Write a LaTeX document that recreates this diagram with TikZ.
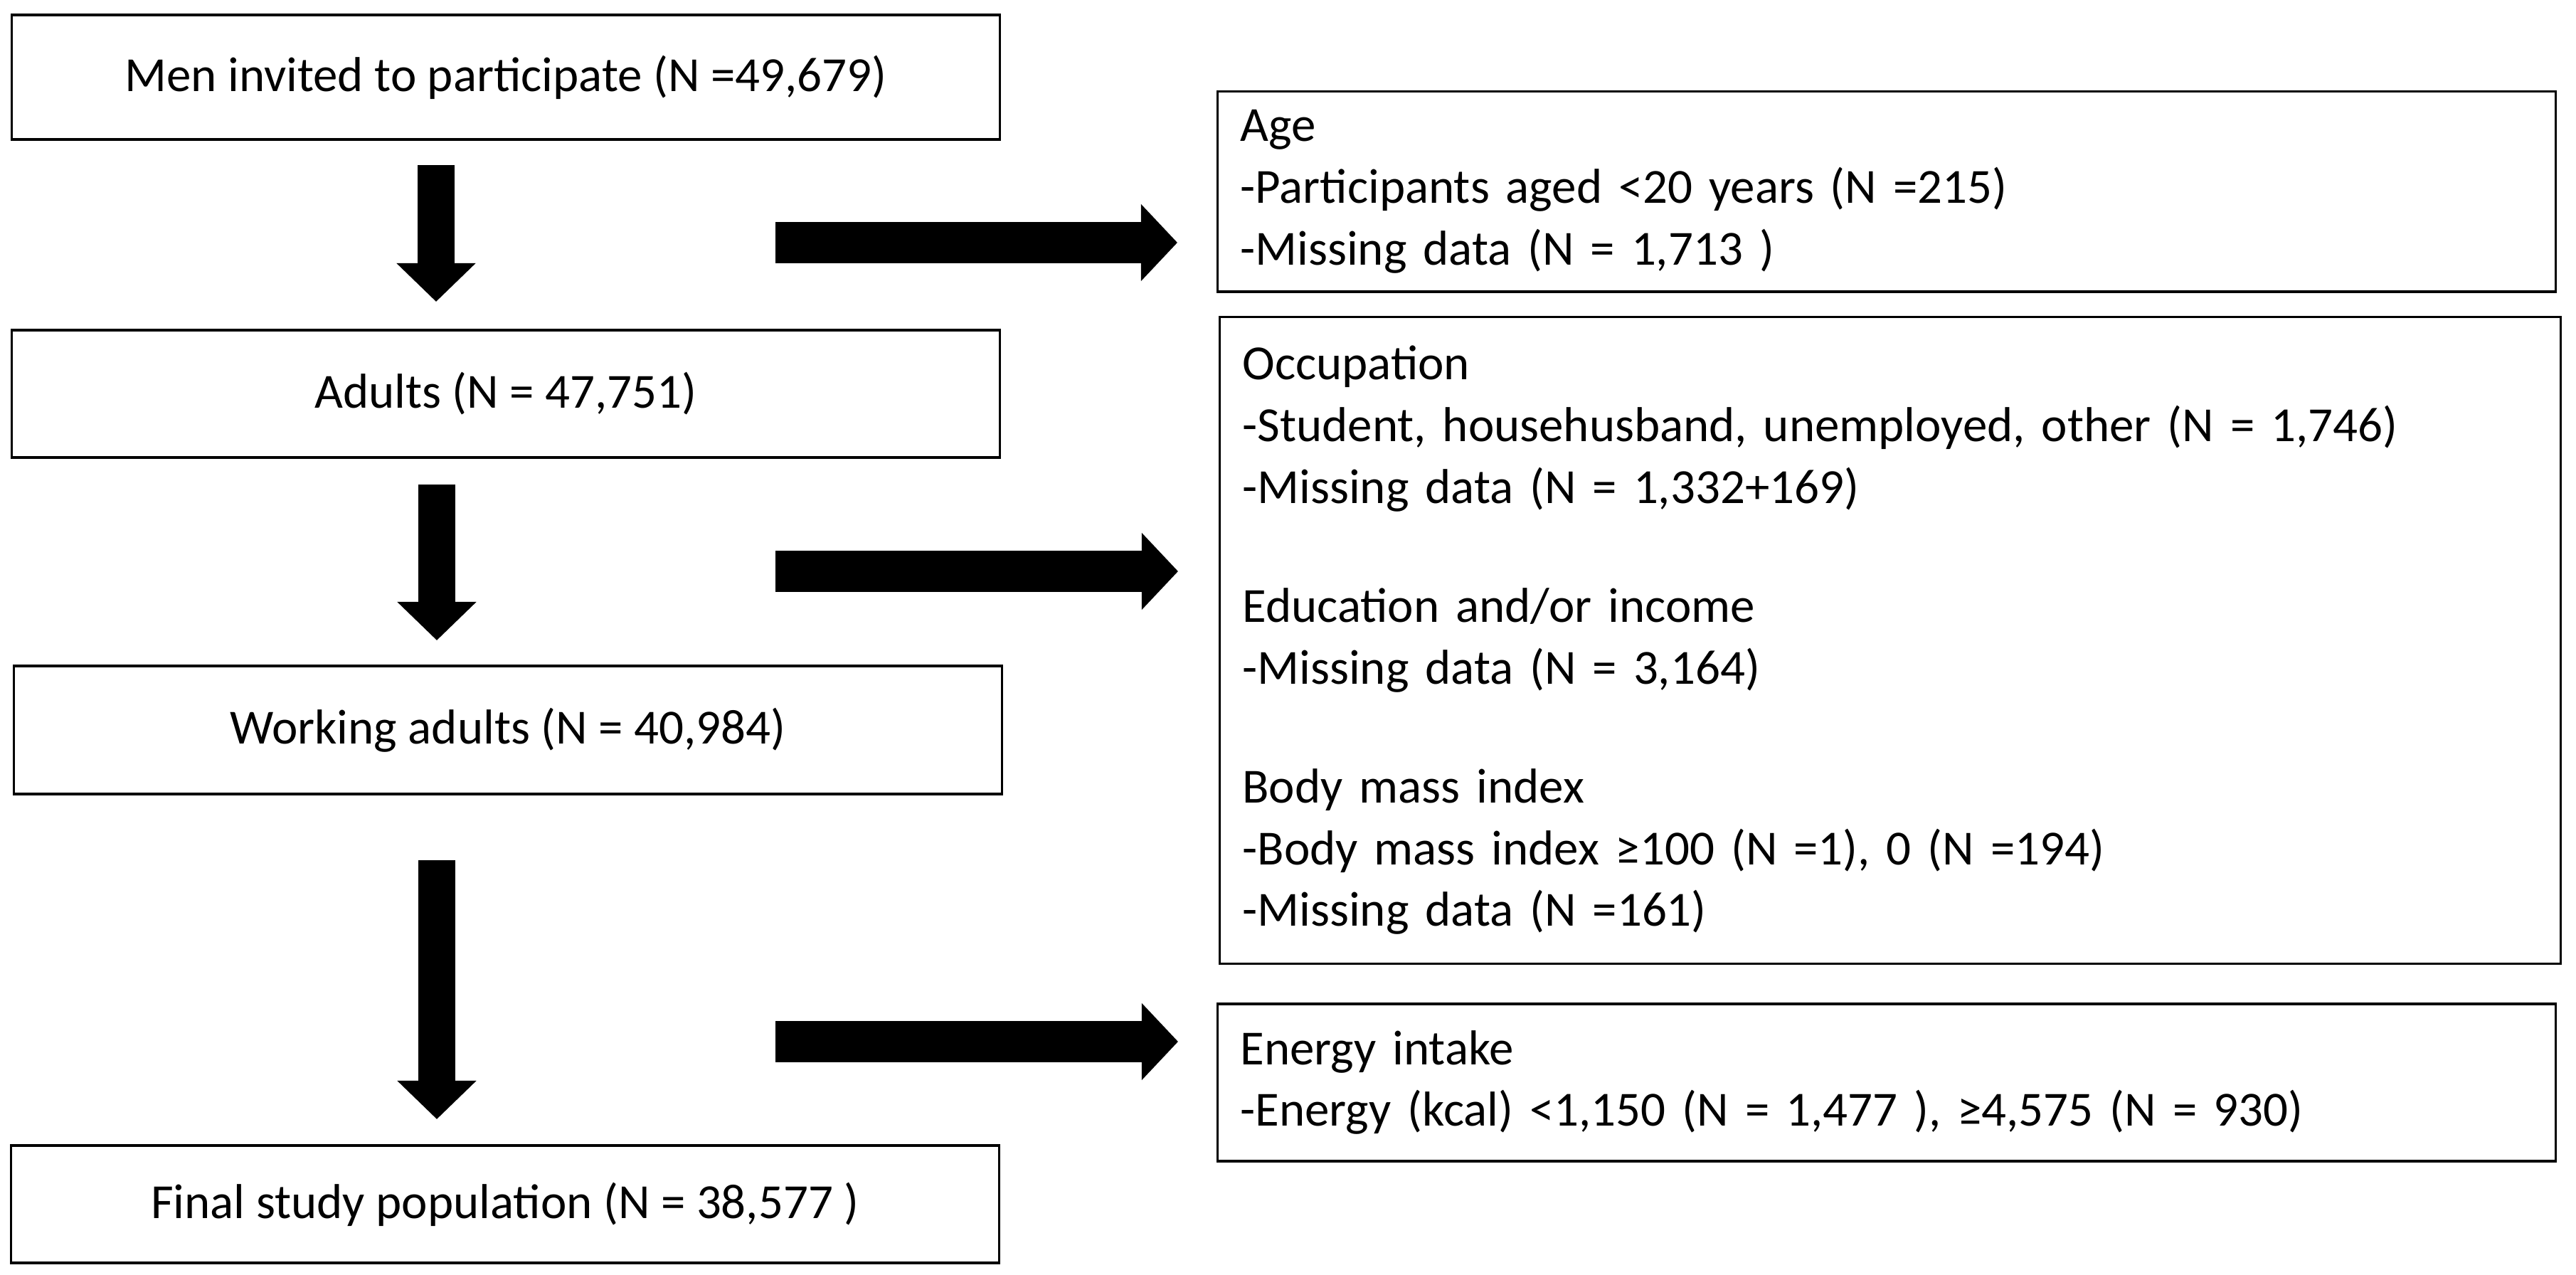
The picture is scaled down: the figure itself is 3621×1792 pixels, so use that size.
\documentclass[tikz,border=0pt]{standalone}
\usepackage{fontspec}
\setmainfont{Carlito}
\usetikzlibrary{arrows.meta}

\tikzset{
    leftbox/.style={draw, line width=0.9pt, minimum width=13.88cm, inner sep=0pt},
    rightbox/.style={draw, line width=0.9pt, inner xsep=0.32cm, inner ysep=0pt, align=left},
    downarrow/.style={line width=0.52cm, -{Triangle[width=1.08cm, length=0.54cm]}},
    rightarrow/.style={line width=0.58cm, -{Triangle[width=1.05cm, length=0.51cm]}},
}

\begin{document}
\begin{tikzpicture}[x=0.01cm, y=-0.01cm, font=\fontsize{19.6}{24.7}\selectfont]
    % frame of the whole picture (units are pixels of the reference)
    \useasboundingbox (0, 0) rectangle (3621, 1792);

    % Left column
    \node[leftbox, minimum height=1.75cm] (invited) at (711, 108.5) {Men invited to participate (N =49,679)};
    \node[leftbox, minimum height=1.79cm] (adults) at (711, 553.5) {Adults (N = 47,751)};
    \node[leftbox, minimum height=1.80cm] (working) at (714, 1026) {Working adults (N = 40,984)};
    \node[leftbox, minimum height=1.65cm] (final) at (710, 1692.5) {Final study population (N = 38,577 )};

    % Right column - exclusions
    \node[rightbox, text width=18.16cm, minimum height=2.81cm] (age) at (2652, 269.5) {Age\\
        -Participants aged <20 years (N =215)\\
        -Missing data (N = 1,713 )};
    \node[rightbox, text width=18.20cm, minimum height=9.08cm] (occupation) at (2657, 900) {Occupation\\
        -Student, househusband, unemployed, other (N = 1,746)\\
        -Missing data (N = 1,332+169)\\[0.8cm]
        Education and/or income\\
        -Missing data (N = 3,164)\\[0.8cm]
        Body mass index\\
        -Body mass index ≥100 (N =1), 0 (N =194)\\
        -Missing data (N =161)};
    \node[rightbox, text width=18.16cm, minimum height=2.21cm] (energy) at (2652, 1521.5) {Energy intake\\
        -Energy (kcal) <1,150 (N = 1,477 ), ≥4,575 (N = 930)};

    % Arrow end points
    \coordinate (down1s) at (613, 232);
    \coordinate (down1e) at (613, 424);
    \coordinate (down2s) at (614, 681);
    \coordinate (down2e) at (614, 900);
    \coordinate (down3s) at (614, 1209);
    \coordinate (down3e) at (614, 1573);
    \coordinate (right1s) at (1090, 341);
    \coordinate (right1e) at (1655, 341);
    \coordinate (right2s) at (1090, 803);
    \coordinate (right2e) at (1656, 803);
    \coordinate (right3s) at (1090, 1464);
    \coordinate (right3e) at (1656, 1464);

    % Down arrows
    \draw[downarrow] (down1s) -- (down1e);
    \draw[downarrow] (down2s) -- (down2e);
    \draw[downarrow] (down3s) -- (down3e);

    % Right arrows
    \draw[rightarrow] (right1s) -- (right1e);
    \draw[rightarrow] (right2s) -- (right2e);
    \draw[rightarrow] (right3s) -- (right3e);

\end{tikzpicture}
\end{document}
